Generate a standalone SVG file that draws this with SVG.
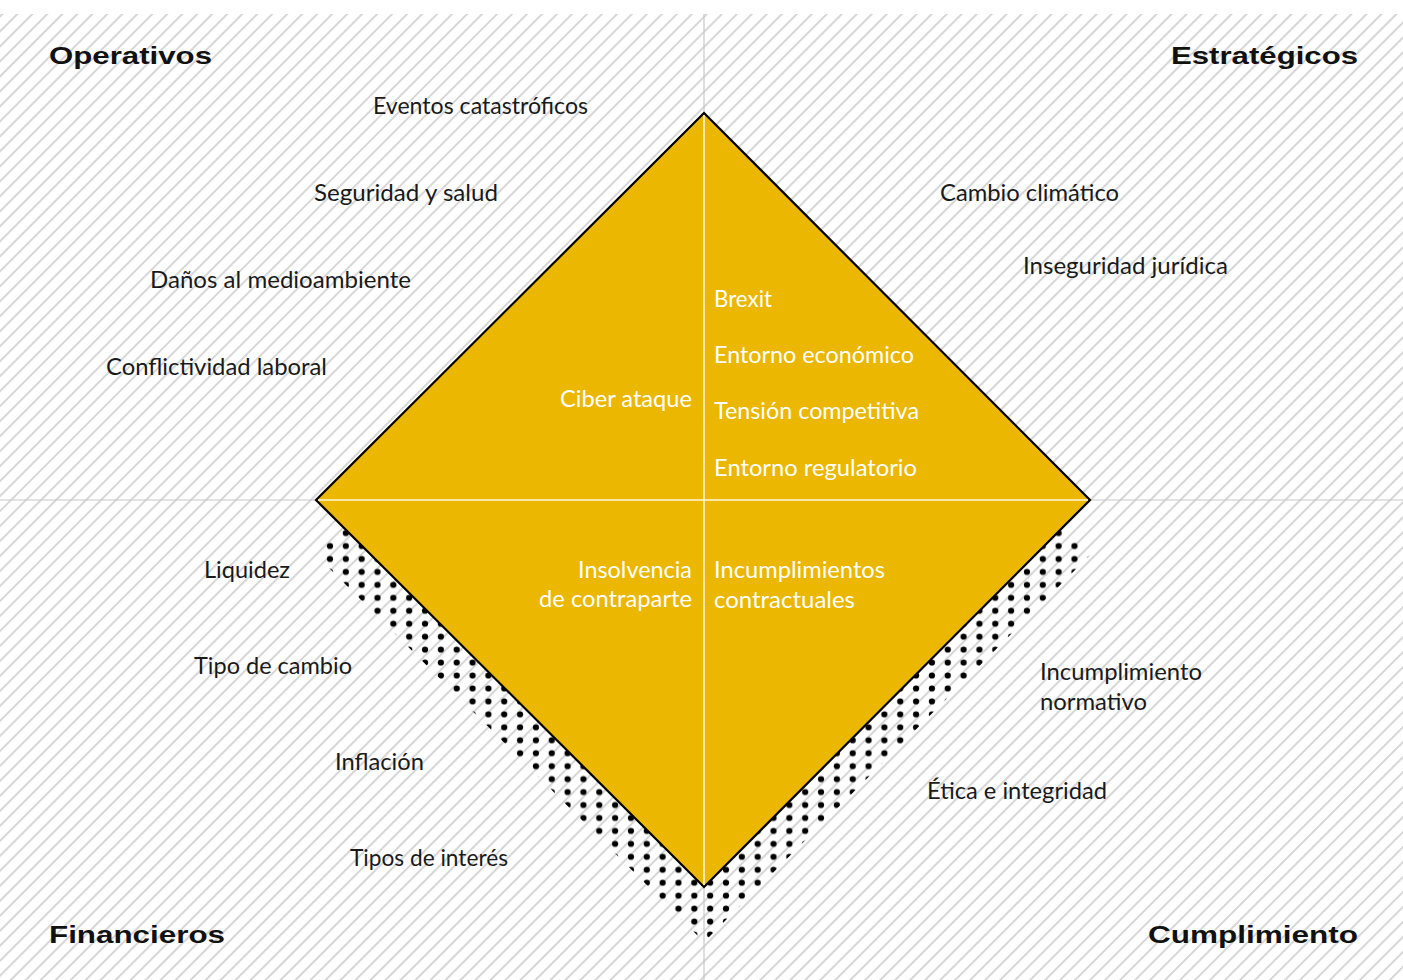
<svg xmlns="http://www.w3.org/2000/svg" width="1403" height="980" viewBox="0 0 1403 980">
  <style>
    .hd { font-family: "Liberation Sans", Arial, sans-serif; font-weight: 700; font-size: 24px; fill: #111; }
    .lb { font-family: Lato, "Noto Sans", sans-serif; font-size: 23px; fill: #1a1a1a; }
    .in { font-family: Lato, "Noto Sans", sans-serif; font-size: 23px; fill: #ffffff; }
    .axis { stroke: #c8c8c8; stroke-width: 1.2; }
    .axisin { stroke: #fff6dc; stroke-width: 1.5; }
  </style>
  <defs>
    <pattern id="hatch" width="10.6" height="10.6" patternUnits="userSpaceOnUse" patternTransform="rotate(45)">
      <rect x="0" y="0" width="2" height="10.6" fill="#d6d6d6"/>
    </pattern>
    <pattern id="dots" x="5.28" y="-4.375" width="15.84" height="12.95" patternUnits="userSpaceOnUse">
      <circle cx="7.92" cy="6.475" r="3.1" fill="#000"/>
    </pattern>
    <clipPath id="shadowClip">
      <polygon points="704,168 1090,555 704,942 316,555"/>
    </clipPath>
  </defs>

  <rect x="0" y="0" width="1403" height="980" fill="#ffffff"/>
  <rect id="background" x="0" y="14" width="1403" height="966" fill="url(#hatch)"/>

  <g id="axes">
    <line class="axis" x1="704" y1="14" x2="704" y2="980"/>
    <line class="axis" x1="0" y1="500" x2="1403" y2="500"/>
  </g>

  <g id="shadow">
    <rect x="300" y="160" width="800" height="800" fill="url(#dots)" clip-path="url(#shadowClip)"/>
  </g>

  <g id="diamond">
    <polygon points="704,113 1090,500 704,887 316,500" fill="#ebb700" stroke="#000" stroke-width="2.2" stroke-linejoin="miter"/>
    <line class="axisin" x1="704" y1="115" x2="704" y2="885"/>
    <line class="axisin" x1="318" y1="500" x2="1088" y2="500"/>
  </g>

  <g id="headers">
    <text class="hd" x="49" y="64" textLength="163" lengthAdjust="spacingAndGlyphs">Operativos</text>
    <text class="hd" x="1171" y="64" textLength="187" lengthAdjust="spacingAndGlyphs">Estratégicos</text>
    <text class="hd" x="49" y="943" textLength="176" lengthAdjust="spacingAndGlyphs">Financieros</text>
    <text class="hd" x="1148" y="943" textLength="210" lengthAdjust="spacingAndGlyphs">Cumplimiento</text>
  </g>

  <g id="operativos">
    <text class="lb" x="373" y="114" textLength="215" lengthAdjust="spacingAndGlyphs">Eventos catastróficos</text>
    <text class="lb" x="314" y="201" textLength="184" lengthAdjust="spacingAndGlyphs">Seguridad y salud</text>
    <text class="lb" x="150" y="288" textLength="261" lengthAdjust="spacingAndGlyphs">Daños al medioambiente</text>
    <text class="lb" x="106" y="375" textLength="221" lengthAdjust="spacingAndGlyphs">Conflictividad laboral</text>
  </g>

  <g id="estrategicos">
    <text class="lb" x="940" y="201" textLength="179" lengthAdjust="spacingAndGlyphs">Cambio climático</text>
    <text class="lb" x="1023" y="274" textLength="205" lengthAdjust="spacingAndGlyphs">Inseguridad jurídica</text>
  </g>

  <g id="financieros">
    <text class="lb" x="204" y="578" textLength="86" lengthAdjust="spacingAndGlyphs">Liquidez</text>
    <text class="lb" x="194" y="674" textLength="158" lengthAdjust="spacingAndGlyphs">Tipo de cambio</text>
    <text class="lb" x="335" y="770" textLength="89" lengthAdjust="spacingAndGlyphs">Inflación</text>
    <text class="lb" x="350" y="866" textLength="158" lengthAdjust="spacingAndGlyphs">Tipos de interés</text>
  </g>

  <g id="cumplimiento">
    <text class="lb" x="1040" y="680" textLength="162" lengthAdjust="spacingAndGlyphs">Incumplimiento</text>
    <text class="lb" x="1040" y="710" textLength="107" lengthAdjust="spacingAndGlyphs">normativo</text>
    <text class="lb" x="927" y="799" textLength="180" lengthAdjust="spacingAndGlyphs">Ética e integridad</text>
  </g>

  <g id="diamond-labels">
    <text class="in" x="714" y="307" textLength="58" lengthAdjust="spacingAndGlyphs">Brexit</text>
    <text class="in" x="714" y="363" textLength="200" lengthAdjust="spacingAndGlyphs">Entorno económico</text>
    <text class="in" x="714" y="419" textLength="205" lengthAdjust="spacingAndGlyphs">Tensión competitiva</text>
    <text class="in" x="714" y="476" textLength="203" lengthAdjust="spacingAndGlyphs">Entorno regulatorio</text>
    <text class="in" x="560" y="407" textLength="132" lengthAdjust="spacingAndGlyphs">Ciber ataque</text>
    <text class="in" x="578" y="578" textLength="114" lengthAdjust="spacingAndGlyphs">Insolvencia</text>
    <text class="in" x="539" y="607" textLength="153" lengthAdjust="spacingAndGlyphs">de contraparte</text>
    <text class="in" x="714" y="578" textLength="171" lengthAdjust="spacingAndGlyphs">Incumplimientos</text>
    <text class="in" x="714" y="608" textLength="141" lengthAdjust="spacingAndGlyphs">contractuales</text>
  </g>
</svg>
